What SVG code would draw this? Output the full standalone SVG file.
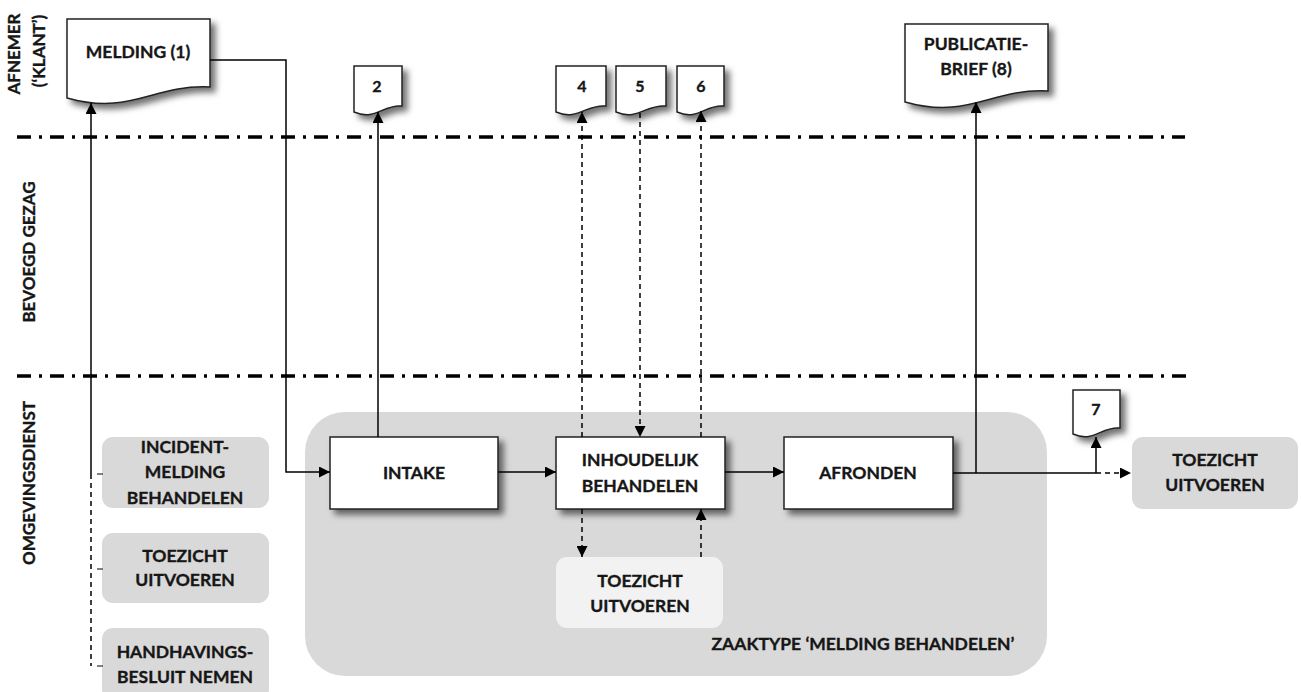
<svg xmlns="http://www.w3.org/2000/svg" width="1301" height="692" viewBox="0 0 1301 692">
<style>
.t{font-family:Lato,"Liberation Sans",sans-serif;font-weight:700;font-size:17.5px;fill:#161616;stroke:#161616;stroke-width:0.35;text-anchor:middle}
.lane{font-size:17px}
.num{font-size:16px}
.ln{stroke:#000;stroke-width:1.5;fill:none}
.dash{stroke-dasharray:5 4}
.lanel{stroke:#000;stroke-width:3.5;stroke-dasharray:14 8 3 8;fill:none}
.doc,.box{fill:#fff;stroke:#222;stroke-width:1.5;filter:url(#sh)}
.gray{fill:#d9d9d9}
.light{fill:#f2f2f2}
.tick{stroke:#555;stroke-width:1.5}
</style>
<defs>
<filter id="sh" x="-20%" y="-20%" width="150%" height="150%">
<feDropShadow dx="5" dy="5" stdDeviation="3" flood-color="#000" flood-opacity="0.55"/>
</filter>
<marker id="ah" viewBox="0 0 10 10" refX="10" refY="5" markerWidth="11" markerHeight="11" markerUnits="userSpaceOnUse" orient="auto">
<path d="M0,0 L10,5 L0,10 z" fill="#000"/>
</marker>
</defs>

<g id="lanes">
<line class="lanel" x1="17" y1="137" x2="1185" y2="137"/>
<line class="lanel" x1="17" y1="376" x2="1190" y2="376"/>
<text class="t lane" transform="translate(20,54) rotate(-90)">AFNEMER</text>
<text class="t lane" transform="translate(45,51) rotate(-90)">(‘KLANT’)</text>
<text class="t lane" transform="translate(35,252) rotate(-90)">BEVOEGD GEZAG</text>
<text class="t lane" transform="translate(35,483) rotate(-90)">OMGEVINGSDIENST</text>
</g>

<g id="zaaktype">
<rect class="gray" x="305" y="412" width="742" height="264" rx="40"/>
<text class="t" x="863" y="650">ZAAKTYPE ‘MELDING BEHANDELEN’</text>
</g>

<g id="incident">
<rect class="gray" x="102" y="437" width="167" height="71" rx="11"/>
<text class="t" x="185" y="453">INCIDENT-</text>
<text class="t" x="185" y="478">MELDING</text>
<text class="t" x="185" y="504">BEHANDELEN</text>
</g>
<g id="toezicht-left">
<rect class="gray" x="102" y="533" width="167" height="70" rx="11"/>
<text class="t" x="185" y="562">TOEZICHT</text>
<text class="t" x="185" y="586">UITVOEREN</text>
</g>
<g id="handhaving">
<rect class="gray" x="102" y="628" width="167" height="72" rx="11"/>
<text class="t" x="185" y="658">HANDHAVINGS-</text>
<text class="t" x="185" y="683">BESLUIT NEMEN</text>
</g>

<g id="melding">
<path class="doc" d="M67,19 H210 V87 C153,84 131,116 67,98 Z"/>
<text class="t" x="138" y="58">MELDING (1)</text>
</g>
<g id="doc2">
<path class="doc" d="M354,66 H402 V106 C383,104 376,121 354,112 Z"/>
<text class="t num" x="377" y="92">2</text>
</g>
<g id="doc4">
<path class="doc" d="M556,66 H606 V106 C586,104 578,121 556,112 Z"/>
<text class="t num" x="582" y="92">4</text>
</g>
<g id="doc5">
<path class="doc" d="M616,66 H666 V106 C646,104 638,121 616,112 Z"/>
<text class="t num" x="640" y="92">5</text>
</g>
<g id="doc6">
<path class="doc" d="M677,66 H724 V106 C705,104 699,121 677,112 Z"/>
<text class="t num" x="701" y="92">6</text>
</g>
<g id="publicatie">
<path class="doc" d="M905,24 H1048 V91 C991,88 969,120 905,102 Z"/>
<text class="t" x="976" y="50">PUBLICATIE-</text>
<text class="t" x="976" y="75">BRIEF (8)</text>
</g>
<g id="doc7">
<path class="doc" d="M1073,390 H1120 V428 C1101,426 1095,443 1073,434 Z"/>
<text class="t num" x="1096" y="415">7</text>
</g>

<g id="intake">
<rect class="box" x="330" y="437" width="168" height="72"/>
<text class="t" x="414" y="479">INTAKE</text>
</g>
<g id="inhoudelijk">
<rect class="box" x="556" y="437" width="169" height="72"/>
<text class="t" x="640" y="466">INHOUDELIJK</text>
<text class="t" x="640" y="492">BEHANDELEN</text>
</g>
<g id="afronden">
<rect class="box" x="784" y="437" width="169" height="72"/>
<text class="t" x="868" y="479">AFRONDEN</text>
</g>
<g id="toezicht-inner">
<rect class="light" x="556" y="557" width="167" height="71" rx="11"/>
<text class="t" x="640" y="587">TOEZICHT</text>
<text class="t" x="640" y="612">UITVOEREN</text>
</g>
<g id="toezicht-right">
<rect class="gray" x="1132" y="437" width="166" height="72" rx="11"/>
<text class="t" x="1215" y="466">TOEZICHT</text>
<text class="t" x="1215" y="491">UITVOEREN</text>
</g>

<g id="connectors">
<path class="ln" d="M91,474 V103" marker-end="url(#ah)"/>
<path class="ln dash" d="M91,474 V666"/>
<line class="tick" x1="97" y1="474" x2="103" y2="474"/>
<line class="tick" x1="97" y1="569" x2="103" y2="569"/>
<line class="tick" x1="97" y1="666" x2="103" y2="666"/>
<path class="ln" d="M210,60 H286 V472 H330" marker-end="url(#ah)"/>
<path class="ln" d="M498,472 H556" marker-end="url(#ah)"/>
<path class="ln" d="M725,472 H784" marker-end="url(#ah)"/>
<path class="ln" d="M378,437 V112" marker-end="url(#ah)"/>
<path class="ln dash" d="M582,437 V112" marker-end="url(#ah)"/>
<path class="ln dash" d="M640,113 V437" marker-end="url(#ah)"/>
<path class="ln dash" d="M701,437 V111" marker-end="url(#ah)"/>
<path class="ln dash" d="M582,509 V557" marker-end="url(#ah)"/>
<path class="ln dash" d="M701,557 V509" marker-end="url(#ah)"/>
<path class="ln" d="M953,473 H1096"/>
<path class="ln" d="M976,473 V102" marker-end="url(#ah)"/>
<path class="ln" d="M1096,473 V437" marker-end="url(#ah)"/>
<path class="ln dash" d="M1096,473 H1131" marker-end="url(#ah)"/>
</g>
</svg>
